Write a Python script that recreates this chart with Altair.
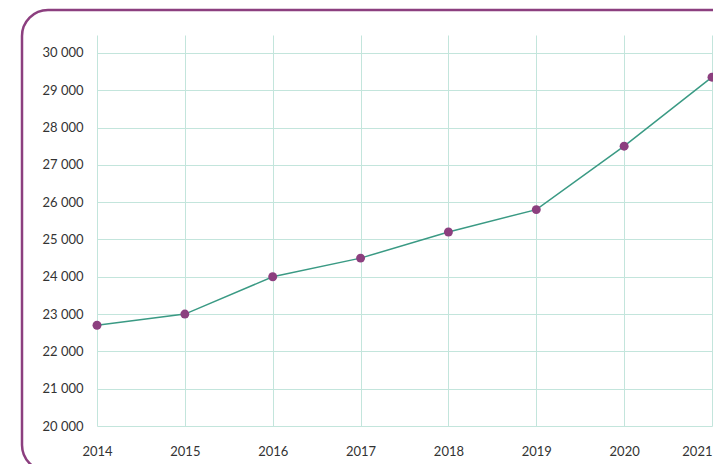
import altair as alt
import pandas as pd

years = [2014, 2015, 2016, 2017, 2018, 2019, 2020, 2021]
values = [22700, 23000, 24000, 24500, 25200, 25800, 27500, 29350]
y_ticks = [20000, 21000, 22000, 23000, 24000, 25000, 26000, 27000, 28000, 29000, 30000]

df = pd.DataFrame({"year": years, "value": values})

W, H = 615, 391
FONT = "Lato"

x_enc = alt.X("year:Q", scale=alt.Scale(domain=[2014, 2021], nice=False, zero=False),
              axis=alt.Axis(values=years, format="d", title=None, domain=False, ticks=False,
                            labelPadding=19, labelFlush=False, gridColor="#c3e5dc", gridWidth=1,
                            labelAlign={"condition": {"test": "datum.value == 2021", "value": "right"},
                                        "value": "center"},
                            labelFont=FONT, labelFontSize=13, labelColor="#333333"))
y_enc = alt.Y("value:Q", scale=alt.Scale(domain=[20000, 30480], nice=False, zero=False),
              axis=alt.Axis(values=y_ticks, title=None, domain=False, ticks=False,
                            labelPadding=14, labelOverlap=False, gridColor="#c3e5dc", gridWidth=1,
                            labelExpr="replace(format(datum.value, ',d'), ',', ' ')",
                            labelFont=FONT, labelFontSize=13, labelColor="#333333"))

base = alt.Chart(df).encode(x=x_enc, y=y_enc)

line = base.mark_line(color="#3a9a84", strokeWidth=1.5)
points = base.mark_point(filled=True, color="#8c3f7f", size=80, opacity=1)

frame = alt.Chart(pd.DataFrame({"a": [0]})).mark_rect(
    fill=None, stroke="#8c3f7f", strokeWidth=2.5, cornerRadius=26
).encode(x=alt.value(-75), x2=alt.value(W + 28), y=alt.value(-25), y2=alt.value(H + 45))

chart = alt.layer(frame, line, points).properties(
    width=W, height=H,
    autosize=alt.AutoSizeParams(type="none"),
    padding={"left": 89, "top": 27, "right": 1, "bottom": 38},
).configure_view(stroke=None)

chart.save("out.html", embed_options={"renderer": "svg", "actions": False})
